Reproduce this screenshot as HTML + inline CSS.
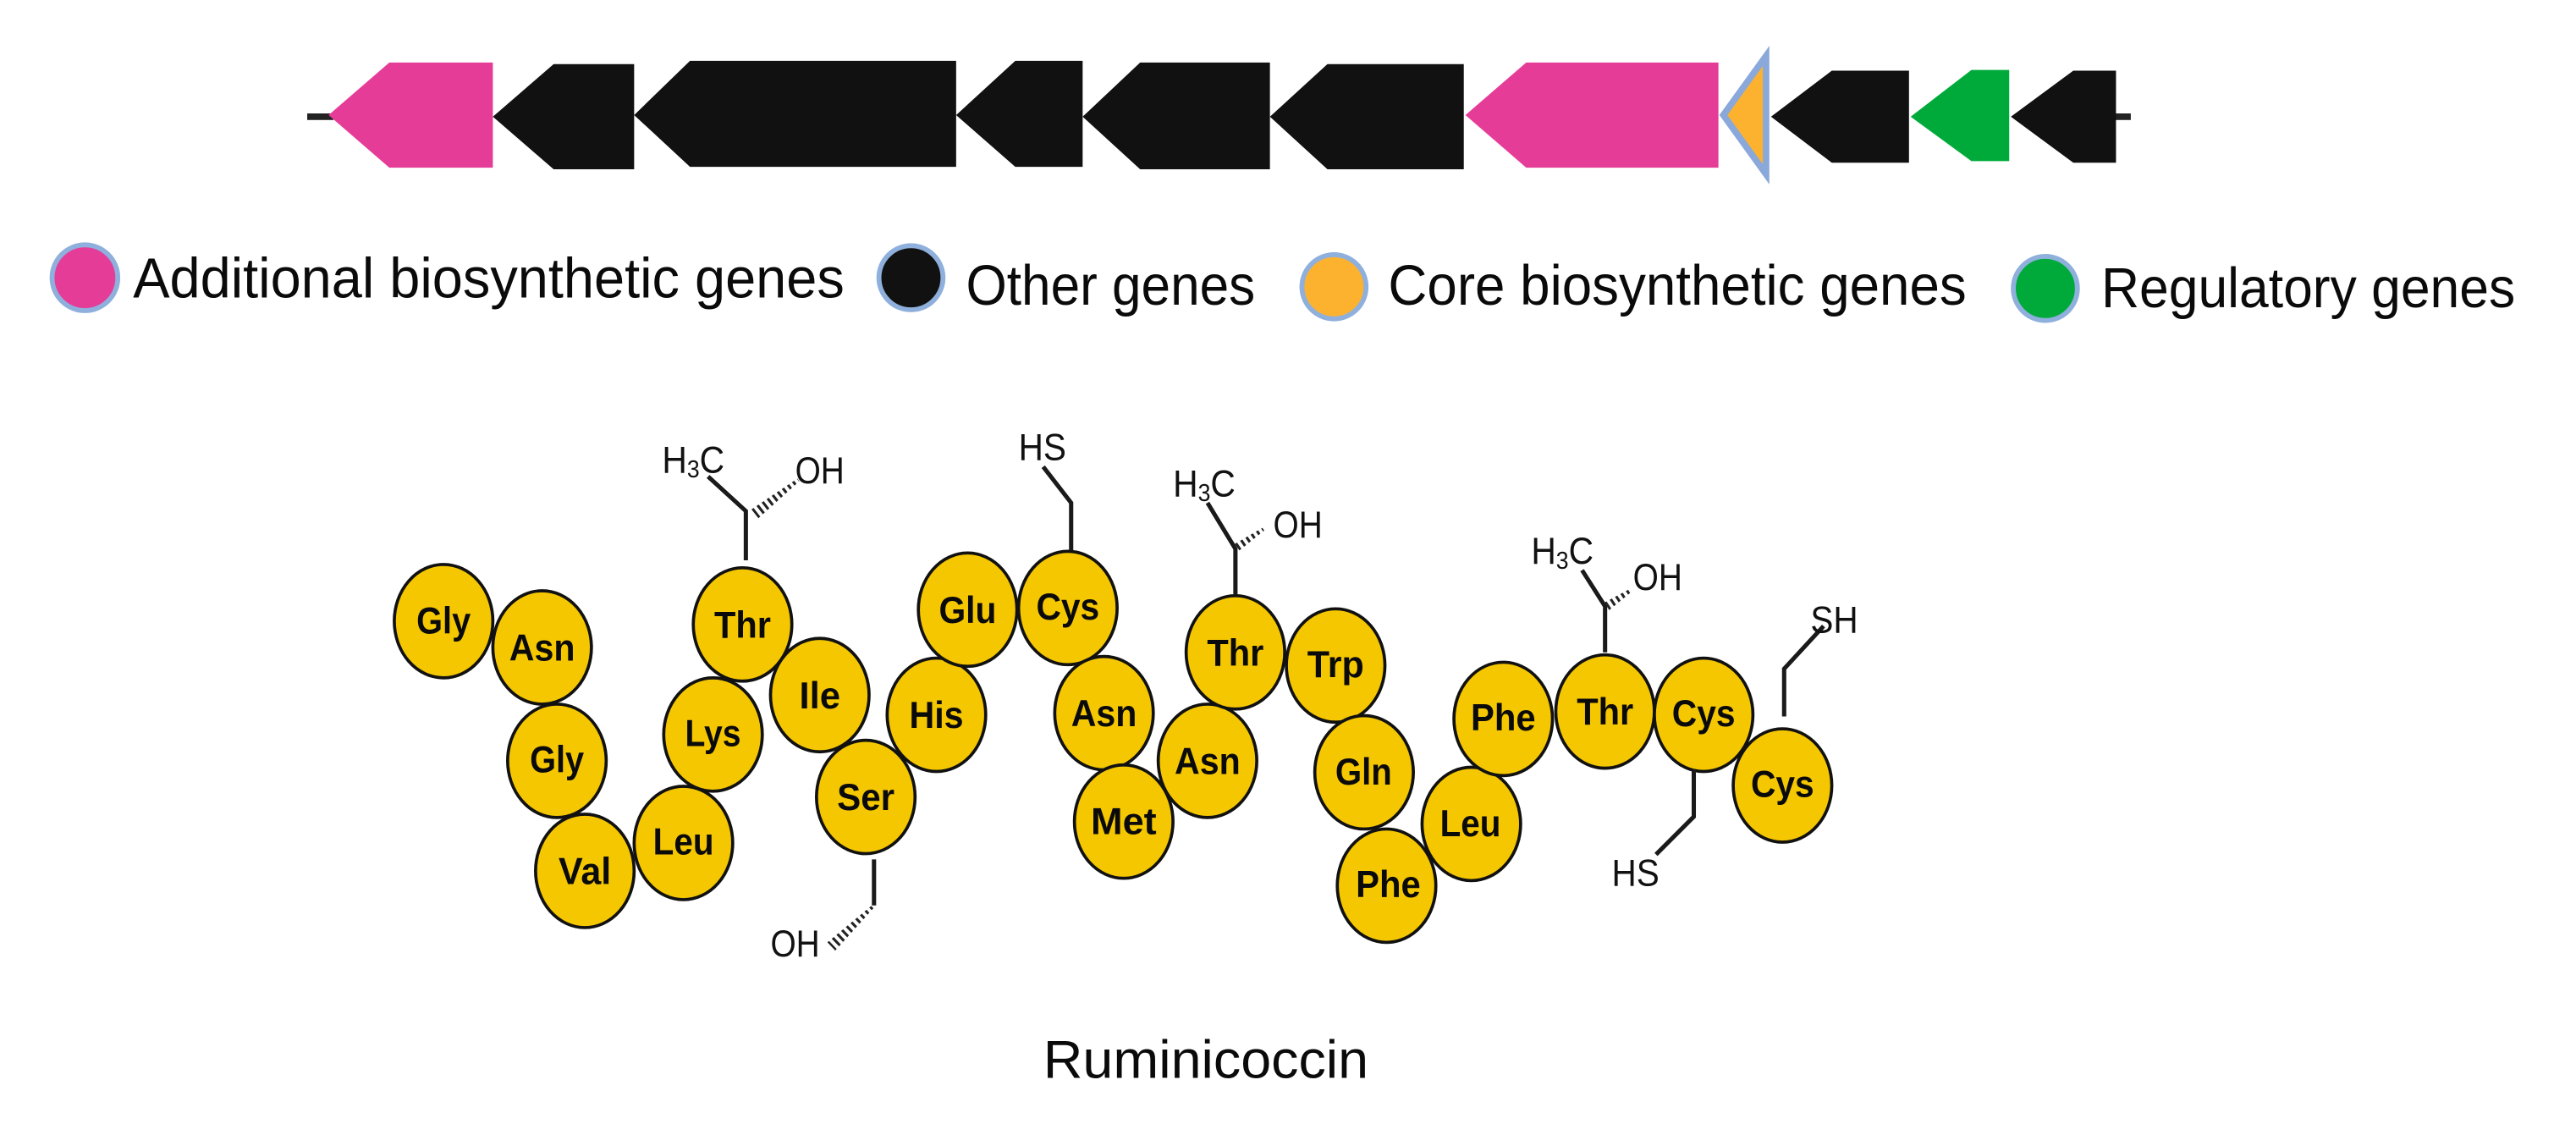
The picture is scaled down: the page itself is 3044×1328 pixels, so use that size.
<!DOCTYPE html>
<html><head><meta charset="utf-8"><style>
html,body{margin:0;padding:0;background:#fff}
svg{display:block}
text{font-family:"Liberation Sans",sans-serif;fill:#0a0a0a}
.l{font-size:34.5px}
.a{font-size:23px;font-weight:bold;text-anchor:middle}
.c{font-size:23px;fill:#111}
.e{fill:#f5c700;stroke:#111;stroke-width:1.9}
.b{fill:none;stroke:#1a1a1a;stroke-width:2.6}
.h{fill:none;stroke:#222;stroke-width:9;stroke-dasharray:1.6 2.1}
</style></head><body>
<svg width="3044" height="1328" viewBox="0 0 1568 684" xmlns="http://www.w3.org/2000/svg">
<defs>
<clipPath id="w1"><polygon points="461.6,315.4 457.4,310 485.4,291.2 486.6,292.8"/></clipPath>
<clipPath id="w2"><polygon points="508.4,578.5 503.6,573.5 530.3,551.3 531.7,552.7"/></clipPath>
<clipPath id="w3"><polygon points="754.4,335 751.6,331 768.4,321.2 769.6,322.8"/></clipPath>
<clipPath id="w4"><polygon points="979.5,371.3 976.5,366.7 992.4,358.2 993.6,359.8"/></clipPath>
</defs>
<rect width="1568" height="684" fill="#fff"/>
<rect x="187" y="69" width="16" height="4" fill="#222"/>
<rect x="1285" y="69" width="12" height="4" fill="#222"/>
<polygon points="200,70 237,38 300,38 300,102 237,102" fill="#e53c98"/>
<polygon points="300,71 337,39 386,39 386,103 337,103" fill="#111"/>
<polygon points="386,70 420,37 582,37 582,101.5 420,101.5" fill="#111"/>
<polygon points="582,70 618,37 659,37 659,101.5 618,101.5" fill="#111"/>
<polygon points="659,71 694,38 773,38 773,103 694,103" fill="#111"/>
<polygon points="773,71 808,39 891,39 891,103 808,103" fill="#111"/>
<polygon points="892,70 929,38 1046,38 1046,102 929,102" fill="#e53c98"/>
<polygon points="1049,70 1075,34 1075,106" fill="#fdb22f" stroke="#8aa9da" stroke-width="4"/>
<polygon points="1078,71 1115,43 1162,43 1162,99 1115,99" fill="#111"/>
<polygon points="1163,71 1200,42.5 1223,42.5 1223,98 1200,98" fill="#00aa3a"/>
<polygon points="1224,71 1262,43 1288,43 1288,99 1262,99" fill="#111"/>

<g stroke="#8fb0dc" stroke-width="3">
<ellipse cx="51.7" cy="169" rx="20" ry="20" fill="#e53c98"/>
<ellipse cx="554.5" cy="169" rx="19.5" ry="19.5" fill="#111"/>
<ellipse cx="812" cy="174.5" rx="19.5" ry="19.5" fill="#fdb22f"/>
<ellipse cx="1245" cy="175.5" rx="19.5" ry="19.5" fill="#00aa3a"/>
</g>
<text class="l" x="81" y="181" textLength="433" lengthAdjust="spacingAndGlyphs">Additional biosynthetic genes</text>
<text class="l" x="588" y="185.5" textLength="176" lengthAdjust="spacingAndGlyphs">Other genes</text>
<text class="l" x="845" y="185.5" textLength="352" lengthAdjust="spacingAndGlyphs">Core biosynthetic genes</text>
<text class="l" x="1279" y="187" textLength="252" lengthAdjust="spacingAndGlyphs">Regulatory genes</text>

<g>
<ellipse class="e" cx="270" cy="378" rx="30" ry="34.5"/><text class="a" x="270" y="385.5" textLength="33" lengthAdjust="spacingAndGlyphs">Gly</text>
<ellipse class="e" cx="330" cy="394" rx="30" ry="34.5"/><text class="a" x="330" y="402" textLength="40" lengthAdjust="spacingAndGlyphs">Asn</text>
<ellipse class="e" cx="339" cy="463" rx="30" ry="34.5"/><text class="a" x="339" y="470" textLength="33" lengthAdjust="spacingAndGlyphs">Gly</text>
<ellipse class="e" cx="356" cy="530" rx="30" ry="34.5"/><text class="a" x="356" y="538" textLength="32" lengthAdjust="spacingAndGlyphs">Val</text>
<ellipse class="e" cx="416" cy="513" rx="30" ry="34.5"/><text class="a" x="416" y="520" textLength="37" lengthAdjust="spacingAndGlyphs">Leu</text>
<ellipse class="e" cx="434" cy="447" rx="30" ry="34.5"/><text class="a" x="434" y="454" textLength="34" lengthAdjust="spacingAndGlyphs">Lys</text>
<ellipse class="e" cx="452" cy="380" rx="30" ry="34.5"/><text class="a" x="452" y="388" textLength="34.5" lengthAdjust="spacingAndGlyphs">Thr</text>
<ellipse class="e" cx="499" cy="423" rx="30" ry="34.5"/><text class="a" x="499" y="431" textLength="25" lengthAdjust="spacingAndGlyphs">Ile</text>
<ellipse class="e" cx="527" cy="485" rx="30" ry="34.5"/><text class="a" x="527" y="493" textLength="35" lengthAdjust="spacingAndGlyphs">Ser</text>
<ellipse class="e" cx="570" cy="435" rx="30" ry="34.5"/><text class="a" x="570" y="443" textLength="33" lengthAdjust="spacingAndGlyphs">His</text>
<ellipse class="e" cx="589" cy="371" rx="30" ry="34.5"/><text class="a" x="589" y="379" textLength="35" lengthAdjust="spacingAndGlyphs">Glu</text>
<ellipse class="e" cx="650" cy="370" rx="30" ry="34.5"/><text class="a" x="650" y="377" textLength="38.5" lengthAdjust="spacingAndGlyphs">Cys</text>
<ellipse class="e" cx="672" cy="434" rx="30" ry="34.5"/><text class="a" x="672" y="442" textLength="40" lengthAdjust="spacingAndGlyphs">Asn</text>
<ellipse class="e" cx="684" cy="500" rx="30" ry="34.5"/><text class="a" x="684" y="507.5" textLength="40" lengthAdjust="spacingAndGlyphs">Met</text>
<ellipse class="e" cx="735" cy="463" rx="30" ry="34.5"/><text class="a" x="735" y="471" textLength="40" lengthAdjust="spacingAndGlyphs">Asn</text>
<ellipse class="e" cx="752" cy="397" rx="30" ry="34.5"/><text class="a" x="752" y="405" textLength="34.5" lengthAdjust="spacingAndGlyphs">Thr</text>
<ellipse class="e" cx="813" cy="405" rx="30" ry="34.5"/><text class="a" x="813" y="412" textLength="34.5" lengthAdjust="spacingAndGlyphs">Trp</text>
<ellipse class="e" cx="830.3" cy="470" rx="30" ry="34.5"/><text class="a" x="830" y="477.6" textLength="34.5" lengthAdjust="spacingAndGlyphs">Gln</text>
<ellipse class="e" cx="895.6" cy="501.4" rx="30" ry="34.5"/><text class="a" x="895" y="509" textLength="37" lengthAdjust="spacingAndGlyphs">Leu</text>
<ellipse class="e" cx="844" cy="539" rx="30" ry="34.5"/><text class="a" x="845" y="546" textLength="39.5" lengthAdjust="spacingAndGlyphs">Phe</text>
<ellipse class="e" cx="915" cy="437.5" rx="30" ry="34.5"/><text class="a" x="915" y="444.6" textLength="39.5" lengthAdjust="spacingAndGlyphs">Phe</text>
<ellipse class="e" cx="977" cy="433" rx="30" ry="34.5"/><text class="a" x="977" y="441" textLength="34.5" lengthAdjust="spacingAndGlyphs">Thr</text>
<ellipse class="e" cx="1037" cy="435" rx="30" ry="34.5"/><text class="a" x="1037" y="442" textLength="38.5" lengthAdjust="spacingAndGlyphs">Cys</text>
<ellipse class="e" cx="1085" cy="478" rx="30" ry="34.5"/><text class="a" x="1085" y="485" textLength="38.5" lengthAdjust="spacingAndGlyphs">Cys</text>
</g>

<polyline class="b" points="431,290 454,311 454,341"/>
<line class="h" clip-path="url(#w1)" x1="459.5" y1="312.7" x2="486" y2="292"/>
<text class="c" x="403" y="287.6" textLength="38" lengthAdjust="spacingAndGlyphs">H<tspan font-size="15" dy="3">3</tspan><tspan dy="-3">C</tspan></text>
<text class="c" x="484" y="294" textLength="30" lengthAdjust="spacingAndGlyphs">OH</text>

<polyline class="b" points="635,284 652,306 652,335"/>
<text class="c" x="620" y="280" textLength="29" lengthAdjust="spacingAndGlyphs">HS</text>

<polyline class="b" points="532,523 532,551"/>
<line class="h" clip-path="url(#w2)" x1="531" y1="552" x2="506" y2="576"/>
<text class="c" x="469" y="582" textLength="30" lengthAdjust="spacingAndGlyphs">OH</text>

<polyline class="b" points="735,306 752,334 752,362"/>
<line class="h" clip-path="url(#w3)" x1="753" y1="333" x2="769" y2="322"/>
<text class="c" x="714" y="302" textLength="38" lengthAdjust="spacingAndGlyphs">H<tspan font-size="15" dy="3">3</tspan><tspan dy="-3">C</tspan></text>
<text class="c" x="775" y="327" textLength="30" lengthAdjust="spacingAndGlyphs">OH</text>

<polyline class="b" points="963,347 977,369 977,397"/>
<line class="h" clip-path="url(#w4)" x1="978" y1="369" x2="993" y2="359"/>
<text class="c" x="932" y="343" textLength="38" lengthAdjust="spacingAndGlyphs">H<tspan font-size="15" dy="3">3</tspan><tspan dy="-3">C</tspan></text>
<text class="c" x="994" y="359" textLength="30" lengthAdjust="spacingAndGlyphs">OH</text>

<polyline class="b" points="1031,468 1031,497 1008,520"/>
<text class="c" x="981" y="539" textLength="29" lengthAdjust="spacingAndGlyphs">HS</text>

<polyline class="b" points="1086,436 1086,407 1110,381"/>
<text class="c" x="1102" y="385" textLength="29" lengthAdjust="spacingAndGlyphs">SH</text>

<text x="635" y="656" font-size="32.4" textLength="198" lengthAdjust="spacingAndGlyphs">Ruminicoccin</text>
</svg>
</body></html>
